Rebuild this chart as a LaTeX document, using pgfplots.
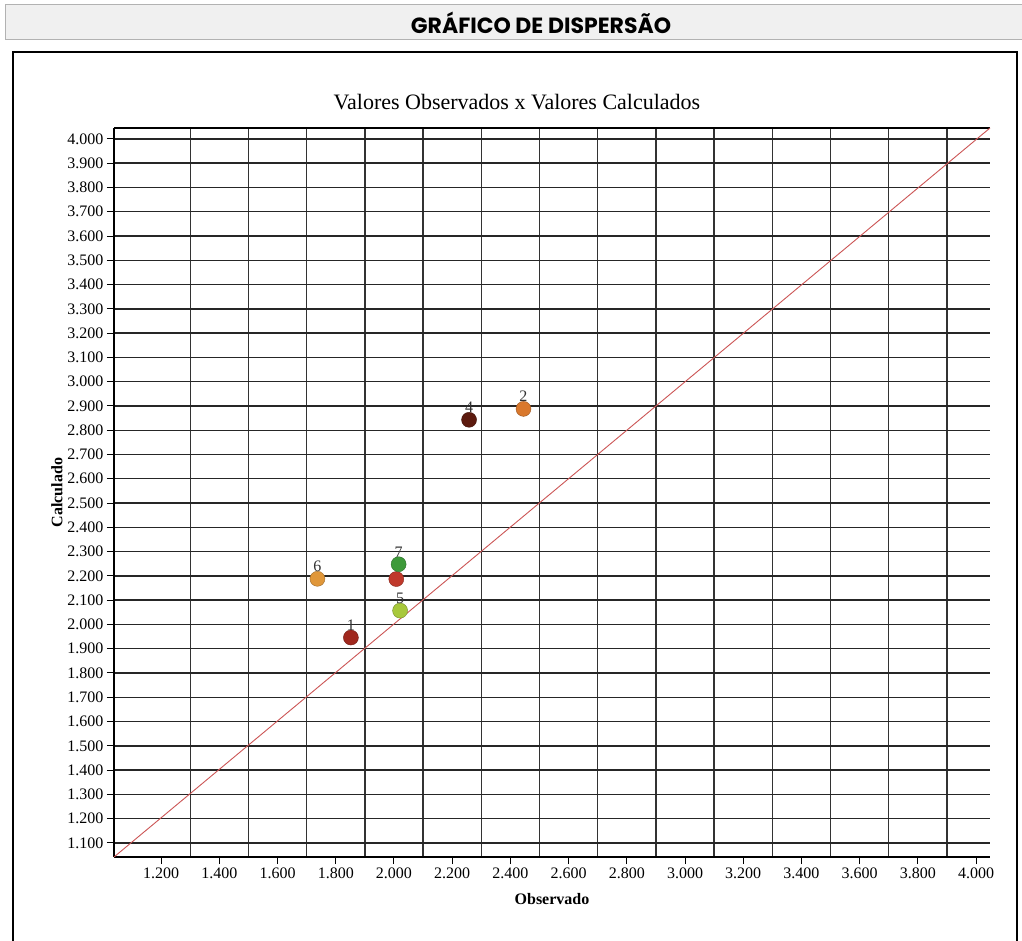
\documentclass[border=0pt]{standalone}
\usepackage{fontspec}
\setmainfont{Liberation Serif}
\newfontfamily\hdrfont{Poppins}
\usepackage{pgfplots}
\pgfplotsset{compat=1.18}
\definecolor{cA}{HTML}{A0281E}
\definecolor{cB}{HTML}{D9782D}
\definecolor{cC}{HTML}{C0392B}
\definecolor{cD}{HTML}{5C1A0E}
\definecolor{cE}{HTML}{A8C83C}
\definecolor{cF}{HTML}{E0973A}
\definecolor{cG}{HTML}{3E9A3A}
\definecolor{diag}{HTML}{CC5555}
\begin{document}
\begin{tikzpicture}
\useasboundingbox (0pt,0pt) rectangle (1022pt,940pt);
\fill[white] (0pt,0pt) rectangle (1022pt,940pt);
% header
\draw[fill=black!6, draw=black!30, line width=1pt] (5pt,900pt) rectangle (1030pt,935pt);
\node[font=\hdrfont\bfseries\fontsize{22}{22}\selectfont] at (541pt,917pt) {GRÁFICO DE DISPERSÃO};
% frame
\draw[line width=2pt] (13pt,888pt) rectangle (1017pt,-10pt);
% title
\node[font=\fontsize{22}{22}\selectfont] at (517pt,838pt) {Valores Observados x Valores Calculados};
\begin{axis}[
  at={(114pt,83pt)}, anchor=south west,
  scale only axis, width=876pt, height=729pt,
  xmin=1038, xmax=4048, ymin=1042, ymax=4045,
  axis x line*=box, axis y line*=left,
  axis line style={-, line width=1.5pt, black},
  xtick={1200,1400,...,4000},
  ytick={1100,1200,...,4000},
  minor xtick={1300,1500,...,3900},
  xmajorgrids=false, xminorgrids=true, ymajorgrids=true,
  major grid style={black!85, line width=1.4pt},
  minor grid style={black!80, line width=1.4pt},
  tick align=outside,
  xtick pos=bottom, ytick pos=left,
  major tick length=7pt, minor tick length=0pt,
  tick style={black, line width=1pt},
  scaled ticks=false,
  /pgf/number format/.cd, fixed, precision=0, 1000 sep={.}, assume math mode=true,
  /pgfplots/.cd,
  tick label style={font=\fontsize{16}{16}\selectfont},
  xlabel={\textbf{Observado}}, ylabel={\textbf{Calculado}},
  label style={font=\fontsize{16}{16}\selectfont},
  xlabel style={yshift=-8pt},
  ylabel style={yshift=-2pt},
  clip=false,
  every node near coord/.style={font=\fontsize{16}{16}\selectfont, anchor=south, yshift=7pt, inner sep=0pt, black!80},
]
\addplot[diag, line width=0.9pt] coordinates {(1038,1042) (4048,4045)};
\addplot[only marks, mark=*, mark size=7.5pt, mark options={fill=cC, draw=cC!70!black}] coordinates {(2008,2187)};
\addplot[only marks, mark=*, mark size=7.5pt, mark options={fill=cA, draw=cA!70!black}, nodes near coords={1}] coordinates {(1852,1946)};
\addplot[only marks, mark=*, mark size=7.5pt, mark options={fill=cB, draw=cB!70!black}, nodes near coords={2}] coordinates {(2445,2888)};
\addplot[only marks, mark=*, mark size=7.5pt, mark options={fill=cD, draw=cD!70!black}, nodes near coords={4}] coordinates {(2258,2843)};
\addplot[only marks, mark=*, mark size=7.5pt, mark options={fill=cE, draw=cE!70!black}, nodes near coords={5}] coordinates {(2021,2057)};
\addplot[only marks, mark=*, mark size=7.5pt, mark options={fill=cF, draw=cF!70!black}, nodes near coords={6}] coordinates {(1737,2188)};
\addplot[only marks, mark=*, mark size=7.5pt, mark options={fill=cG, draw=cG!70!black}, nodes near coords={7}] coordinates {(2016,2248)};
\end{axis}
\end{tikzpicture}
\end{document}
